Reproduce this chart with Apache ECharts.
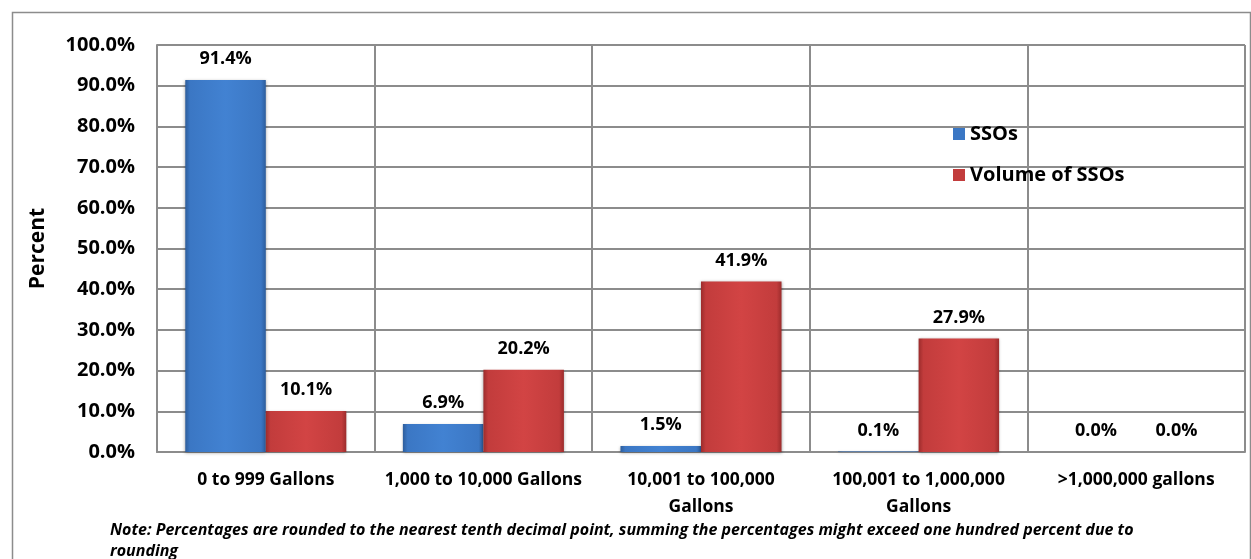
<!DOCTYPE html>
<html><head><meta charset="utf-8">
<script src="https://cdn.jsdelivr.net/npm/echarts@6/dist/echarts.min.js"></script>
<style>html,body{margin:0;padding:0;background:#fff}#c{width:1251px;height:559px}</style>
</head><body><div id="c"></div>
<script>
const categories = ['0 to 999 Gallons', '1,000 to 10,000 Gallons', '10,001 to 100,000\nGallons', '100,001 to 1,000,000\nGallons', '>1,000,000 gallons'];
const ssos = [91.4, 6.9, 1.5, 0.1, 0.0];
const volume = [10.1, 20.2, 41.9, 27.9, 0.0];
const seriesNames = ['SSOs', 'Volume of SSOs'];
const note = 'Note: Percentages are rounded to the nearest tenth decimal point, summing the percentages might exceed one hundred percent due to\nrounding';

const FONT = 'Open Sans';
function grad(dark, mid, light) {
  return new echarts.graphic.LinearGradient(0, 0, 1, 0, [
    {offset: 0, color: dark}, {offset: 0.06, color: mid}, {offset: 0.5, color: light}, {offset: 0.94, color: mid}, {offset: 1, color: dark}
  ]);
}
const blue = grad('#2d5d9c', '#3b77c4', '#4282d2');
const red = grad('#9c2c2c', '#c23c3c', '#d24444');
const labelCfg = {
  show: true, position: 'top', distance: 12,
  fontFamily: FONT, fontWeight: 'bold', fontSize: 18, color: '#000',
  formatter: p => p.value.toFixed(1) + '%'
};
const chart = echarts.init(document.getElementById('c'));
chart.setOption({
  animation: false,
  backgroundColor: '#fff',
  grid: {left: 157, right: 6, top: 45, bottom: 107, containLabel: false},
  legend: {
    orient: 'vertical', left: 948, top: 118, itemWidth: 12, itemHeight: 12, itemGap: 19,
    icon: 'rect',
    textStyle: {fontFamily: FONT, fontWeight: 'bold', fontSize: 20, color: '#000', lineHeight: 22},
    data: [{name: seriesNames[0], itemStyle: {color: '#3b77c4'}}, {name: seriesNames[1], itemStyle: {color: '#c23c3c'}}]
  },
  xAxis: {
    type: 'category', data: categories,
    axisLine: {show: true, lineStyle: {color: '#8c8c8c', width: 2}},
    axisTick: {show: false},
    splitLine: {show: true, lineStyle: {color: '#8c8c8c', width: 2}},
    axisLabel: {fontFamily: FONT, fontWeight: 'bold', fontSize: 17.5, color: '#000', margin: 15, lineHeight: 27, interval: 0}
  },
  yAxis: {
    type: 'value', min: 0, max: 100, interval: 10,
    name: 'Percent', nameLocation: 'middle', nameGap: 108, nameRotate: 90,
    nameTextStyle: {fontFamily: FONT, fontWeight: 'bold', fontSize: 21, color: '#000'},
    axisLine: {show: true, lineStyle: {color: '#8c8c8c', width: 2}},
    axisTick: {show: false},
    splitLine: {show: true, lineStyle: {color: '#8c8c8c', width: 2}},
    axisLabel: {fontFamily: FONT, fontWeight: 'bold', fontSize: 20, color: '#000', margin: 22, formatter: v => v.toFixed(1) + '%'}
  },
  series: [
    {name: seriesNames[0], type: 'bar', data: ssos, barGap: '0%', barCategoryGap: '26%',
     itemStyle: {color: blue, shadowColor: 'rgba(0,0,0,0.35)', shadowBlur: 3, shadowOffsetY: 1}, label: labelCfg},
    {name: seriesNames[1], type: 'bar', data: volume, barGap: '0%', barCategoryGap: '26%',
     itemStyle: {color: red, shadowColor: 'rgba(0,0,0,0.35)', shadowBlur: 3, shadowOffsetY: 1}, label: labelCfg}
  ],
  graphic: [
    {type: 'rect', left: 10, top: 10, shape: {width: 1238, height: 560}, style: {fill: null, stroke: '#8c8c8c', lineWidth: 1.5}, silent: true},
    {type: 'text', left: 110, top: 520, style: {text: note, fontFamily: FONT, fontWeight: 'bold', fontStyle: 'italic', fontSize: 16, fill: '#000', lineHeight: 21}}
  ]
});
</script></body></html>
